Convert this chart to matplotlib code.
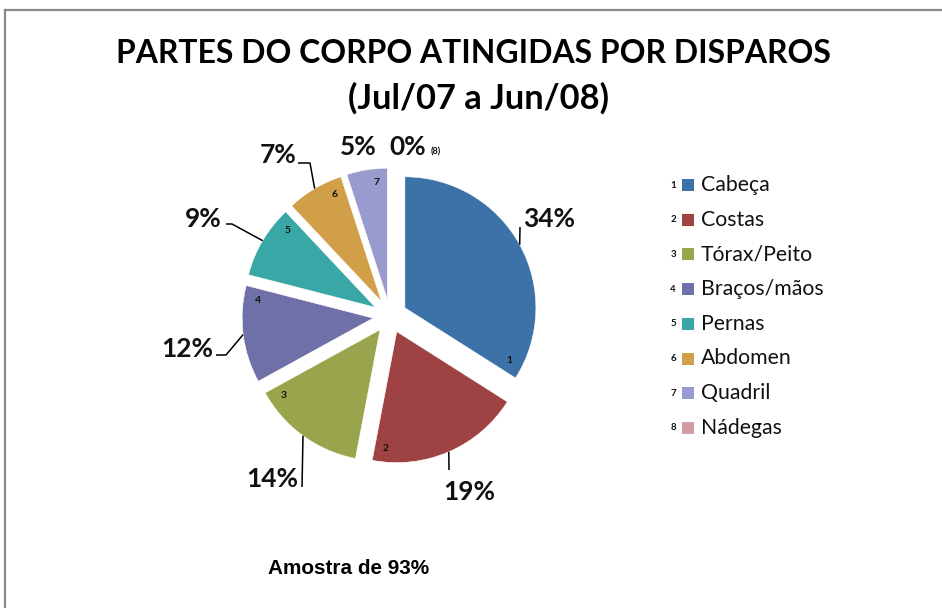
import math
import matplotlib
matplotlib.use("Agg")
import matplotlib.pyplot as plt
from matplotlib.patches import Rectangle
from matplotlib.lines import Line2D

# ---------------- data ----------------
categories = ['Cabeça', 'Costas', 'Tórax/Peito', 'Braços/mãos', 'Pernas',
              'Abdomen', 'Quadril', 'Nádegas']
values = [34, 19, 14, 12, 9, 7, 5, 0]
pct_labels = ['34%', '19%', '14%', '12%', '9%', '7%', '5%', '0%']
title_lines = ['PARTES DO CORPO ATINGIDAS POR DISPAROS', '(Jul/07 a Jun/08)']
note = 'Amostra de 93%'

colors = ['#3C72A8', '#9E4244', '#99A44C', '#6F70A7', '#38A7A6',
          '#D09F48', '#999BCF', '#D49CA0']

W, H = 942, 608
FONT = 'Lato'


def Y(py):
    return H - py


fig = plt.figure(figsize=(W / 100, H / 100), dpi=100)
fig.patch.set_facecolor('white')
ax = fig.add_axes([0, 0, 1, 1])
renderer = fig.canvas.get_renderer()

# chart frame (top and left edges visible)
fig.add_artist(Line2D([5 / W, 1], [Y(9.5) / H, Y(9.5) / H], color='#8a8a8a', lw=1.6))
fig.add_artist(Line2D([5 / W, 5 / W], [Y(9.5) / H, 0], color='#8a8a8a', lw=1.6))

# ---------------- pie ----------------
CX, CY, R, EXPL = 390, Y(316), 131, 17
wedges, _ = ax.pie(values, explode=[EXPL] * len(values), startangle=90,
                   counterclock=False, colors=colors, radius=R, center=(CX, CY),
                   wedgeprops=dict(edgecolor='white', linewidth=0.4))
ax.set_xlim(0, W)
ax.set_ylim(0, H)
ax.set_aspect('equal')
ax.axis('off')


def fit(text, target_w, **kw):
    t = ax.text(0, 0, text, fontsize=10, **kw)
    w = t.get_window_extent(renderer).width
    t.remove()
    return 10 * target_w / w


# wedge geometry helpers
total = sum(values)
cum = 0
mids, ends = [], []
for v in values:
    a1 = 90 - 360 * cum / total
    cum += v
    a2 = 90 - 360 * cum / total
    mids.append((a1 + a2) / 2)
    ends.append(a2)

# small category numbers inside wedges
for i, wdg in enumerate(wedges[:7]):
    cx, cy = wdg.center
    ang = math.radians(ends[i] + 5.5)
    ax.text(cx + 117 * math.cos(ang), cy + 117 * math.sin(ang), str(i + 1),
            fontsize=7.5, fontweight='bold', family=FONT, ha='center', va='center',
            color='#111111')

# percentage labels and leader lines
pct_size = fit('34%', 52, family=FONT, fontweight='bold')
label_pos = [(549, 227), (469, 500), (272, 487), (187, 357), (203, 227),
             (278, 163), (358, 155), (408, 155)]
leaders = [[(520, 227)], [(449, 470)], [(302, 487)], [(226, 355), (216, 355)],
           [(232, 224), (226, 224)], [(310, 163), (298, 163)], None, None]
for i, txt in enumerate(pct_labels):
    x, yb = label_pos[i]
    ax.text(x, Y(yb), txt, fontsize=pct_size, fontweight='bold', family=FONT,
            ha='center', va='baseline', color='#111111')
    if leaders[i]:
        cx, cy = wedges[i].center
        ang = math.radians(mids[i])
        pts = [(cx + R * math.cos(ang), cy + R * math.sin(ang))]
        pts += [(px, Y(py)) for px, py in leaders[i]]
        ax.plot([p[0] for p in pts], [p[1] for p in pts], color='black', lw=1.1,
                solid_capstyle='butt')
ax.text(436, Y(154), '(8)', fontsize=6.5, fontweight='bold', family=FONT,
        ha='center', va='baseline', color='#111111')

# title
tsize = fit(title_lines[0], 712, family=FONT, fontweight='bold')
tsize2 = fit(title_lines[1], 262, family=FONT, fontweight='bold')
ax.text(473, Y(63), title_lines[0], fontsize=tsize, fontweight='bold', family=FONT,
        ha='center', va='baseline', color='black')
ax.text(478, Y(109), title_lines[1], fontsize=tsize2, fontweight='bold', family=FONT,
        ha='center', va='baseline', color='black')

# legend
lsize = fit('Braços/mãos', 123, family=FONT)
for i, name in enumerate(categories):
    yc = 185 + i * 34.7
    ax.add_patch(Rectangle((682, Y(yc + 6)), 12, 12, facecolor=colors[i],
                           edgecolor='none'))
    ax.text(676, Y(yc), str(i + 1), fontsize=7, fontweight='bold', family=FONT,
            ha='right', va='center', color='#111111')
    ax.text(701, Y(yc), name, fontsize=lsize, family=FONT, ha='left',
            va='center', color='#111111')

# note
nsize = fit(note, 162, family='Liberation Sans', fontweight='bold')
ax.text(349, Y(574), note, fontsize=nsize, fontweight='bold',
        family='Liberation Sans', ha='center', va='baseline', color='black')

fig.savefig('out.png', dpi=100, facecolor='white')
